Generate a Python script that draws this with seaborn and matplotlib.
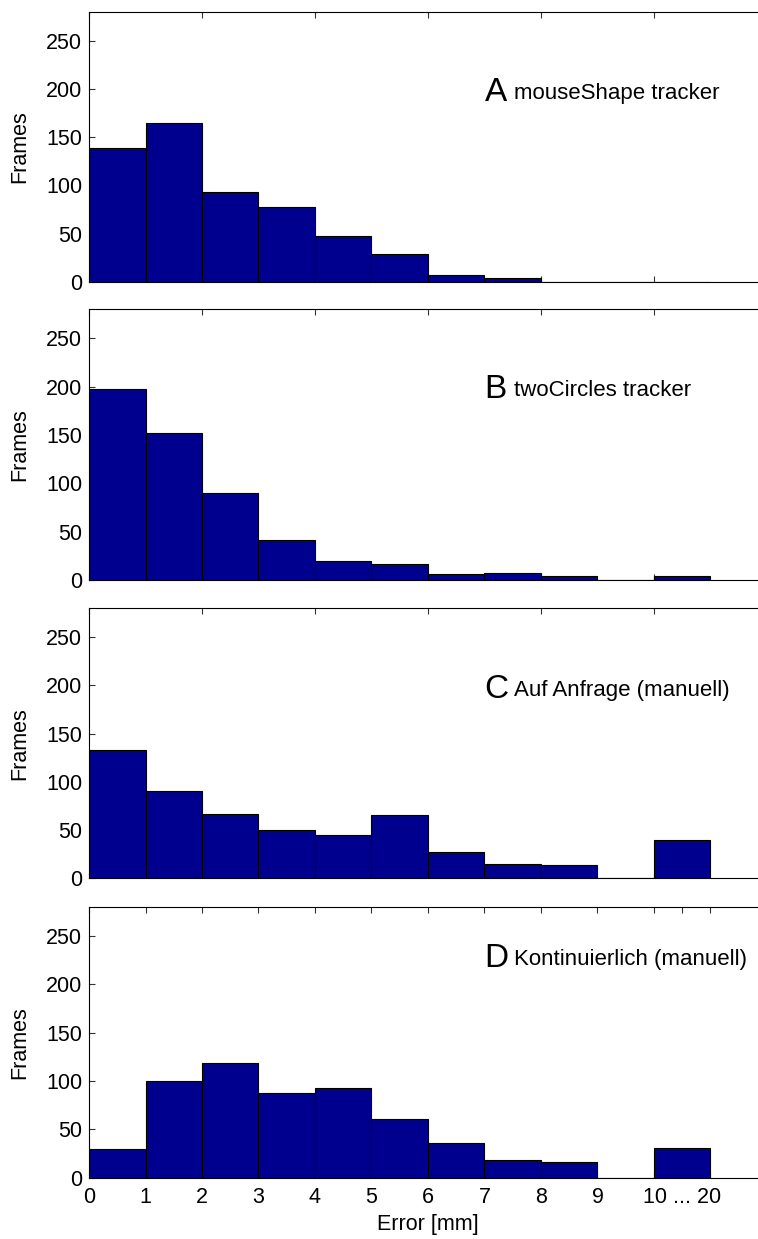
import numpy as np
import pandas as pd
import matplotlib
matplotlib.use("Agg")
import matplotlib.pyplot as plt
import seaborn as sns

# Histogram of tracking error, one panel per method
bin_edges = list(range(0, 12))          # last bin (10..11) holds errors of 10 ... 20 mm
bin_centers = [e + 0.5 for e in bin_edges[:-1]]

counts_a = [139, 165, 93, 78, 48, 29, 7, 4, 0, 0, 0]
counts_b = [198, 152, 90, 41, 20, 17, 6, 7, 4, 0, 4]
counts_c = [133, 90, 67, 50, 45, 66, 27, 15, 14, 0, 40]
counts_d = [30, 100, 119, 87, 93, 61, 36, 18, 16, 0, 31]

panel_letters = ["A", "B", "C", "D"]
panel_titles = ["mouseShape tracker", "twoCircles tracker",
                "Auf Anfrage (manuell)", "Kontinuierlich (manuell)"]
label_y = [188, 188, 187, 218]

x_ticks_bottom = list(range(0, 11)) + [10.5, 11]
x_tick_labels_bottom = [str(i) for i in range(0, 10)] + ["", "10 ... 20", ""]
y_ticks = [0, 50, 100, 150, 200, 250]

sns.set_style("white")
plt.rcParams["font.family"] = ["Liberation Sans", "DejaVu Sans"]
plt.rcParams["text.color"] = "black"
plt.rcParams["axes.labelcolor"] = "black"
plt.rcParams["xtick.color"] = "black"
plt.rcParams["ytick.color"] = "black"

bar_color = "#00008F"
fig = plt.figure(figsize=(7.58, 12.39), dpi=100)

left = 89 / 758
width = 678 / 758
panel_boxes = [(0.77240, 0.21816), (0.53188, 0.21848),
               (0.29120, 0.21784), (0.04948, 0.21872)]

all_counts = [counts_a, counts_b, counts_c, counts_d]
for i, (counts, (bottom, height)) in enumerate(zip(all_counts, panel_boxes)):
    ax = fig.add_axes([left, bottom, width, height])
    df = pd.DataFrame({"error": bin_centers, "frames": counts})
    sns.histplot(data=df, x="error", weights="frames", bins=bin_edges,
                 color=bar_color, alpha=1.0, edgecolor="black",
                 linewidth=0.8, ax=ax)
    ax.set_xlim(0, 12)
    ax.set_ylim(0, 280)
    ax.set_yticks(y_ticks)
    ax.set_yticklabels([str(v) for v in y_ticks], fontsize=15.5, color="black")
    ax.set_ylabel("Frames", fontsize=15.5, color="black")
    ax.yaxis.set_label_coords(-0.087, 0.5)
    for side in ["top", "bottom", "left"]:
        ax.spines[side].set_visible(True)
        ax.spines[side].set_linewidth(0.8)
        ax.spines[side].set_color("black")
    ax.spines["right"].set_visible(False)
    ax.tick_params(axis="both", direction="in", length=4, width=0.8,
                   color="#333333", top=True, bottom=True, left=True, right=False)
    ax.tick_params(axis="y", pad=5)
    if i < 3:
        ax.set_xticks(list(range(0, 13, 2)))
        ax.set_xticklabels([])
        ax.set_xlabel("")
    else:
        ax.set_xticks(x_ticks_bottom)
        ax.set_xticklabels(x_tick_labels_bottom, fontsize=15.5, color="black")
        ax.tick_params(axis="x", pad=7)
        ax.set_xlabel("Error [mm]", fontsize=15.5, labelpad=4, color="black")
    ax.text(7, label_y[i], panel_letters[i], fontsize=24, va="baseline",
            ha="left", color="black")
    ax.annotate(panel_titles[i], xy=(7, label_y[i] + 2), xytext=(21, 0),
                textcoords="offset points", fontsize=16, color="black",
                va="baseline", ha="left")

fig.savefig("out.png", dpi=100)
